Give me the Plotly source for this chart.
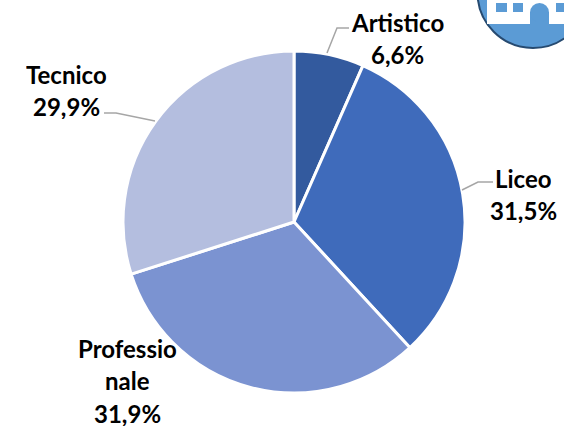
import plotly.graph_objects as go

categories = ["Artistico", "Liceo", "Professionale", "Tecnico"]
values = [6.6, 31.5, 31.9, 29.9]
value_labels = ["6,6%", "31,5%", "31,9%", "29,9%"]
label_lines = [["Artistico"], ["Liceo"], ["Professio", "nale"], ["Tecnico"]]
colors = ["#335A9E", "#3F6BBB", "#7B93D1", "#B4BEDF"]

W, H = 564, 426
px = lambda x: x / W
py = lambda y: 1 - y / H
FONT = "Lato"

fig = go.Figure(go.Pie(
    labels=categories, values=values, sort=False, direction="clockwise", rotation=0,
    marker=dict(colors=colors, line=dict(color="white", width=3)),
    textinfo="none", hoverinfo="label+percent", showlegend=False,
    domain=dict(x=[px(123), px(465)], y=[py(393), py(51)]),
))

# label blocks: centre x and y of first line
anchors = [(397, 21.5), (523, 177.5), (127, 347.5), (66.5, 73.5)]
steps = 32.5
annotations = []
for lines, val, (ax, ay) in zip(label_lines, value_labels, anchors):
    for i, t in enumerate(lines + [val]):
        annotations.append(dict(
            x=px(ax), y=py(ay + i * steps), xref="paper", yref="paper",
            text=f"<b>{t}</b>", showarrow=False, xanchor="center", yanchor="middle",
            height=26, valign="middle",
            font=dict(family=FONT, size=24, color="#000000"),
        ))

shapes = []
def path(pts, color="#A6A6A6", width=1.5):
    d = "M " + " L ".join(f"{px(x)} {py(y)}" for x, y in pts)
    shapes.append(dict(type="path", path=d, xref="paper", yref="paper",
                       line=dict(color=color, width=width), layer="above"))

path([(349, 28), (337, 28), (327, 53)])
path([(493, 182), (478, 182), (462, 190)])
path([(104, 113), (116, 113), (155, 121)])

# decorative icon, top right corner
shapes.append(dict(type="circle", xref="paper", yref="paper",
                   x0=px(477.5), x1=px(588.5), y0=py(48), y1=py(-63),
                   fillcolor="#5B9BD5", line=dict(color="#264A70", width=2)))
def rect(x0, y0, x1, y1, color):
    shapes.append(dict(type="rect", xref="paper", yref="paper", x0=px(x0), x1=px(x1),
                       y0=py(y1), y1=py(y0), fillcolor=color, line=dict(width=0)))
rect(487, -2, 566, 24, "#FFFFFF")
rect(496, 3, 507, 12, "#5B9BD5")
rect(513, 3, 523, 12, "#5B9BD5")
rect(556, 3, 566, 12, "#5B9BD5")
rect(530, 12, 549, 25, "#5B9BD5")
shapes.append(dict(type="circle", xref="paper", yref="paper",
                   x0=px(530), x1=px(549), y0=py(22), y1=py(3),
                   fillcolor="#5B9BD5", line=dict(width=0)))

fig.update_layout(
    width=W, height=H, margin=dict(l=0, r=0, t=0, b=0),
    paper_bgcolor="white", showlegend=False,
    annotations=annotations, shapes=shapes,
)
fig.write_html("out.html", config=dict(displayModeBar=False),
               post_script="document.body.style.margin='0';document.documentElement.style.overflow='hidden';")
